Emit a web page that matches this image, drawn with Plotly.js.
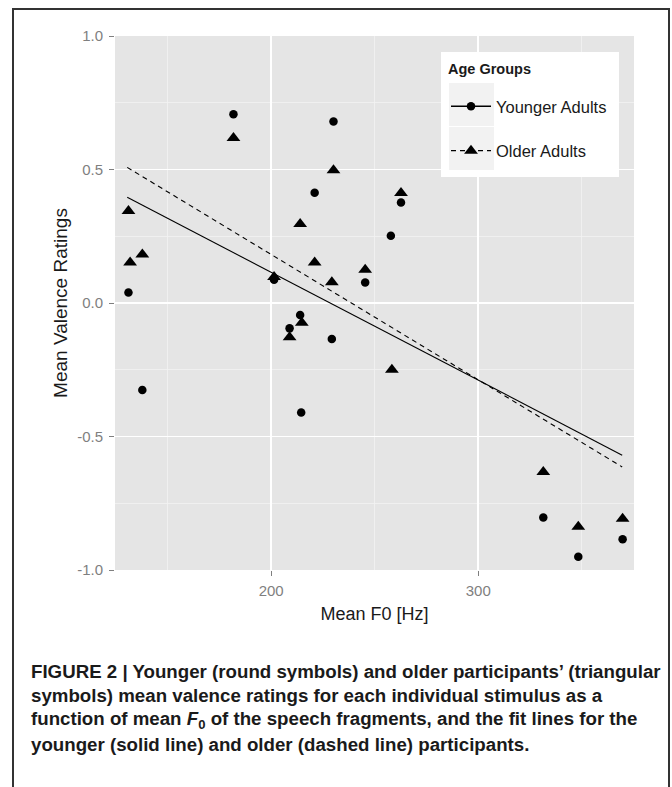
<!DOCTYPE html>
<html>
<head>
<meta charset="utf-8">
<script src="https://cdn.plot.ly/plotly-3.0.1.min.js"></script>
<style>
  html, body { margin: 0; padding: 0; background: #ffffff; }
  #chart { width: 672px; height: 787px; }
</style>
</head>
<body>
<div id="chart"></div>
<script>
// ---- Data ----
// Younger adults: mean F0 (Hz) and mean valence rating
const youngerF0 = [131.1, 137.8, 181.8, 201.4, 208.9, 214.0, 214.5, 221.0, 229.3, 230.1, 245.4, 257.8, 262.7, 331.4, 348.3, 369.7];
const youngerValence = [0.039, -0.326, 0.707, 0.087, -0.095, -0.045, -0.410, 0.413, -0.135, 0.680, 0.077, 0.252, 0.376, -0.803, -0.950, -0.885];

// Older adults
const olderF0 = [131.1, 131.9, 137.8, 181.8, 201.4, 208.9, 214.0, 214.8, 221.0, 229.3, 230.1, 245.4, 258.3, 262.7, 331.4, 348.3, 369.7];
const olderValence = [0.345, 0.152, 0.182, 0.618, 0.097, -0.128, 0.296, -0.074, 0.152, 0.078, 0.497, 0.125, -0.250, 0.412, -0.633, -0.838, -0.808];

// Fit lines (end points)
const fitF0 = [130.5, 369.5];
const youngerFit = [0.396, -0.570];
const olderFit = [0.508, -0.614];

// Labels
const xTickVals = [200, 300];
const xTickText = ['200', '300'];
const yTickVals = [-1, -0.5, 0, 0.5, 1];
const yTickText = ['-1.0', '-0.5', '0.0', '0.5', '1.0'];
const xMinorVals = [150, 250, 350];
const yMinorVals = [-0.75, -0.25, 0.25, 0.75];
const groupNames = ['Younger Adults', 'Older Adults'];
const legendTitle = 'Age Groups';
const xTitle = 'Mean F0 [Hz]';
const yTitle = 'Mean Valence Ratings';
const captionLines = [
  'FIGURE 2 | Younger (round symbols) and older participants\u2019 (triangular',
  'symbols) mean valence ratings for each individual stimulus as a',
  'function of mean <i>F</i><sub>0</sub> of the speech fragments, and the fit lines for the',
  'younger (solid line) and older (dashed line) participants.'
];

// ---- Layout geometry (pixels) ----
const W = 672, H = 787;
const M = { l: 115, r: 38, t: 36, b: 217 };
const PW = W - M.l - M.r, PH = H - M.t - M.b;
const px = x => (x - M.l) / PW;
const py = y => (M.t + PH - y) / PH;

const FONT = '"Liberation Sans", Arial, Helvetica, sans-serif';

const traces = [
  {
    x: fitF0, y: youngerFit, mode: 'lines', type: 'scatter',
    line: { color: '#000000', width: 1.1 }, showlegend: false, hoverinfo: 'skip'
  },
  {
    x: fitF0, y: olderFit, mode: 'lines', type: 'scatter',
    line: { color: '#000000', width: 1.1, dash: '5px,4px' }, showlegend: false, hoverinfo: 'skip'
  },
  {
    x: youngerF0, y: youngerValence, mode: 'markers', type: 'scatter',
    marker: { symbol: 'circle', size: 8.5, color: '#000000' }, showlegend: false
  },
  {
    x: olderF0, y: olderValence, mode: 'markers', type: 'scatter',
    marker: { symbol: 'triangle-up', size: 12, color: '#000000' }, showlegend: false
  },
  // legend entries
  {
    x: [null], y: [null], mode: 'lines+markers', type: 'scatter', name: groupNames[0],
    legendgroup: 'g1',
    line: { color: '#000000', width: 1.3 },
    marker: { symbol: 'circle', size: 8.5, color: '#000000' }
  },
  {
    x: [null], y: [null], mode: 'lines+markers', type: 'scatter', name: groupNames[1],
    legendgroup: 'g2',
    line: { color: '#000000', width: 1.3, dash: '5px,4px' },
    marker: { symbol: 'triangle-up', size: 12, color: '#000000' }
  }
];

const annotations = captionLines.map((t, i) => ({
  text: '<b>' + t + '</b>',
  xref: 'paper', yref: 'paper',
  x: px(29), y: py(671 + i * 24.5),
  xanchor: 'left', yanchor: 'middle',
  showarrow: false, align: 'left',
  font: { family: FONT, size: 18.7, color: '#1a1a1a' }
}));
// legend title
annotations.push({
  text: '<b>' + legendTitle + '</b>',
  xref: 'paper', yref: 'paper',
  x: px(446), y: py(69), xanchor: 'left', yanchor: 'middle',
  showarrow: false,
  font: { family: FONT, size: 14.5, color: '#1a1a1a' }
});

const rectPx = (x0, x1, y0, y1, fill) => ({
  type: 'rect', xref: 'paper', yref: 'paper',
  x0: px(x0), x1: px(x1), y0: py(y1), y1: py(y0),
  line: { width: 0 }, fillcolor: fill, layer: 'above'
});

const layout = {
  width: W, height: H,
  margin: M,
  paper_bgcolor: '#ffffff',
  plot_bgcolor: '#e5e5e5',
  font: { family: FONT, color: '#1a1a1a' },
  showlegend: true,
  xaxis: {
    range: [124.6, 375.2],
    tickmode: 'array', tickvals: xTickVals, ticktext: xTickText,
    ticks: 'outside', ticklen: 5, tickwidth: 1, tickcolor: '#7f7f7f',
    tickfont: { family: FONT, size: 15, color: '#7f7f7f' },
    ticklabelstandoff: 2,
    showgrid: true, gridcolor: '#ffffff', gridwidth: 1.6,
    minor: { tickvals: xMinorVals, showgrid: true, gridcolor: '#f2f2f2', gridwidth: 0.8, ticks: '' },
    zeroline: false, showline: false,
    title: { text: xTitle, font: { family: FONT, size: 18, color: '#1a1a1a' }, standoff: 9 }
  },
  yaxis: {
    range: [-1, 1],
    tickmode: 'array', tickvals: yTickVals, ticktext: yTickText,
    ticks: 'outside', ticklen: 5, tickwidth: 1, tickcolor: '#7f7f7f',
    tickfont: { family: FONT, size: 15, color: '#7f7f7f' },
    ticklabelstandoff: 3,
    showgrid: true, gridcolor: '#ffffff', gridwidth: 1.6,
    minor: { tickvals: yMinorVals, showgrid: true, gridcolor: '#f2f2f2', gridwidth: 0.8, ticks: '' },
    zeroline: false, showline: false,
    title: { text: yTitle, font: { family: FONT, size: 19, color: '#1a1a1a' }, standoff: 4 }
  },
  legend: {
    x: px(446), y: py(89), xanchor: 'left', yanchor: 'top',
    bgcolor: 'rgba(0,0,0,0)', borderwidth: 0,
    font: { family: FONT, size: 16.5, color: '#1a1a1a' },
    tracegroupgap: 20,
    itemwidth: 40
  },
  shapes: [
    // legend background and key boxes
    rectPx(441, 619, 52, 177, '#ffffff'),
    rectPx(449, 494, 83, 126, '#f2f2f2'),
    rectPx(449, 494, 127, 170, '#f2f2f2'),
    // outer figure frame
    {
      type: 'rect', xref: 'paper', yref: 'paper',
      x0: px(13), x1: px(669), y0: py(800), y1: py(9),
      line: { color: '#333333', width: 2 }, fillcolor: 'rgba(0,0,0,0)', layer: 'above'
    }
  ],
  annotations: annotations
};

Plotly.newPlot('chart', traces, layout, { displayModeBar: false, staticPlot: true });
</script>
</body>
</html>
